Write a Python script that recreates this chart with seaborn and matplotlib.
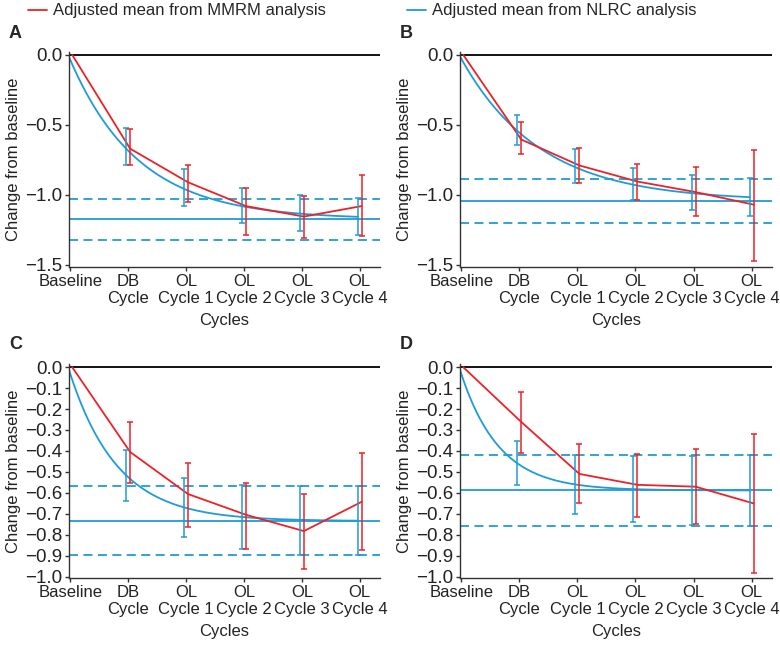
import numpy as np
import pandas as pd
import matplotlib
matplotlib.use("Agg")
from matplotlib import pyplot as plt
from matplotlib.lines import Line2D
import seaborn as sns

sns.set_style("ticks")
plt.rcParams["font.family"] = ["Liberation Sans", "DejaVu Sans"]

RED = "#ec2227"
BLUE = "#1f9bd7"

cycles = ["Baseline", "DB\nCycle", "OL\nCycle 1", "OL\nCycle 2", "OL\nCycle 3", "OL\nCycle 4"]
panels = ["A", "B", "C", "D"]

# MMRM adjusted means (baseline first) and CI limits for the 5 post-baseline cycles
mmrm_mean = {
    "A": [0.0, -0.67, -0.91, -1.08, -1.155, -1.08],
    "B": [0.0, -0.605, -0.79, -0.905, -0.98, -1.07],
    "C": [0.0, -0.405, -0.606, -0.705, -0.783, -0.643],
    "D": [0.0, -0.262, -0.51, -0.562, -0.571, -0.651],
}
mmrm_lo = {
    "A": [-0.79, -1.05, -1.286, -1.307, -1.295],
    "B": [-0.707, -0.917, -1.04, -1.15, -1.471],
    "C": [-0.552, -0.765, -0.87, -0.963, -0.873],
    "D": [-0.41, -0.651, -0.714, -0.751, -0.984],
}
mmrm_hi = {
    "A": [-0.533, -0.786, -0.952, -1.007, -0.855],
    "B": [-0.483, -0.662, -0.781, -0.798, -0.683],
    "C": [-0.262, -0.457, -0.551, -0.606, -0.41],
    "D": [-0.119, -0.368, -0.416, -0.389, -0.317],
}

# NLRC model: plateau, its CI, rate, and CI limits at each cycle
nlrc_plateau = {"A": -1.174, "B": -1.043, "C": -0.735, "D": -0.589}
nlrc_plateau_lo = {"A": -1.321, "B": -1.198, "C": -0.898, "D": -0.759}
nlrc_plateau_hi = {"A": -1.031, "B": -0.888, "C": -0.568, "D": -0.419}
nlrc_rate = {"A": 0.844, "B": 0.734, "C": 1.21, "D": 1.51}
nlrc_lo = {
    "A": [-0.788, -1.079, -1.202, -1.257, -1.288],
    "B": [-0.643, -0.912, -1.04, -1.107, -1.15],
    "C": [-0.638, -0.81, -0.87, -0.895, -0.898],
    "D": [-0.565, -0.702, -0.741, -0.754, -0.757],
}
nlrc_hi = {
    "A": [-0.526, -0.814, -0.952, -1.0, -1.021],
    "B": [-0.429, -0.674, -0.805, -0.857, -0.881],
    "C": [-0.395, -0.529, -0.563, -0.568, -0.568],
    "D": [-0.352, -0.419, -0.425, -0.422, -0.421],
}

yticks_big = [0.0, -0.5, -1.0, -1.5]
yticks_small = [0.0, -0.1, -0.2, -0.3, -0.4, -0.5, -0.6, -0.7, -0.8, -0.9, -1.0]

W, H = 780, 645
fig = plt.figure(figsize=(W / 100, H / 100), dpi=100)

# axes boxes in pixels: left, top, width, height
boxes = {"A": (69, 52, 311, 215), "B": (460, 52, 312, 215),
         "C": (69, 364, 311, 214), "D": (460, 364, 312, 214)}

off = 0.035
x = np.arange(len(cycles))

for p in panels:
    l, t, w, h = boxes[p]
    ax = fig.add_axes([l / W, 1 - (t + h) / H, w / W, h / H])

    ax.axhline(0, color="black", lw=1.3, zorder=1)
    ax.axhline(nlrc_plateau[p], color=BLUE, lw=1.3)
    for v in (nlrc_plateau_lo[p], nlrc_plateau_hi[p]):
        ax.axhline(v, color=BLUE, lw=1.3, dashes=(5, 3))

    # NLRC fitted curve
    t_fit = np.linspace(0, 5, 200)
    fit = pd.DataFrame({"x": t_fit - off,
                        "y": nlrc_plateau[p] * (1 - np.exp(-nlrc_rate[p] * t_fit))})
    sns.lineplot(data=fit, x="x", y="y", color=BLUE, lw=1.3, ax=ax)

    # MMRM means
    mm = pd.DataFrame({"x": x + off, "y": mmrm_mean[p]})
    sns.lineplot(data=mm, x="x", y="y", color=RED, lw=1.3, ax=ax)

    lo, hi = np.array(nlrc_lo[p]), np.array(nlrc_hi[p])
    mid = (lo + hi) / 2
    ax.errorbar(x[1:] - off, mid, yerr=[mid - lo, hi - mid], fmt="none",
                ecolor=BLUE, elinewidth=1.1, capsize=2.5, capthick=1.1)
    lo, hi = np.array(mmrm_lo[p]), np.array(mmrm_hi[p])
    mid = (lo + hi) / 2
    ax.errorbar(x[1:] + off, mid, yerr=[mid - lo, hi - mid], fmt="none",
                ecolor=RED, elinewidth=1.1, capsize=2.5, capthick=1.1)

    big = p in ("A", "B")
    yt = yticks_big if big else yticks_small
    ax.set_yticks(yt)
    ax.set_yticklabels(["0.0" if v == 0 else f"{v:.1f}".replace("-", "\u2212") for v in yt],
                       fontsize=13.5, color="#222222")
    ax.set_ylim((-1.515, 0.02) if big else (-1.007, 0.015))
    ax.set_xlim(-0.02, 5.35)
    ax.set_xticks(x)
    ax.set_xticklabels(cycles, fontsize=12, color="#222222", linespacing=1.2)
    ax.set_xlabel("Cycles", fontsize=12, color="#222222", labelpad=5)
    ax.set_ylabel("Change from baseline", fontsize=12, color="#222222", labelpad=3)
    ax.tick_params(length=3, width=1, color="#333333", pad=2)
    for s in ("left", "bottom"):
        ax.spines[s].set_linewidth(1)
        ax.spines[s].set_color("#333333")
    sns.despine(ax=ax)

    fig.text((l - 60) / W, 1 - (t - 19) / H, p, fontsize=13, fontweight="bold",
             va="center", ha="left")

fig.legend(handles=[Line2D([], [], color=RED, lw=1.3)],
           labels=["Adjusted mean from MMRM analysis"], loc="center left",
           bbox_to_anchor=(28 / W, 1 - 11 / H), frameon=False, fontsize=12,
           handlelength=1.15, handletextpad=0.35, borderpad=0, borderaxespad=0)
fig.legend(handles=[Line2D([], [], color=BLUE, lw=1.3)],
           labels=["Adjusted mean from NLRC analysis"], loc="center left",
           bbox_to_anchor=(407 / W, 1 - 11 / H), frameon=False, fontsize=12,
           handlelength=1.15, handletextpad=0.35, borderpad=0, borderaxespad=0)

fig.savefig("out.png", dpi=100)
